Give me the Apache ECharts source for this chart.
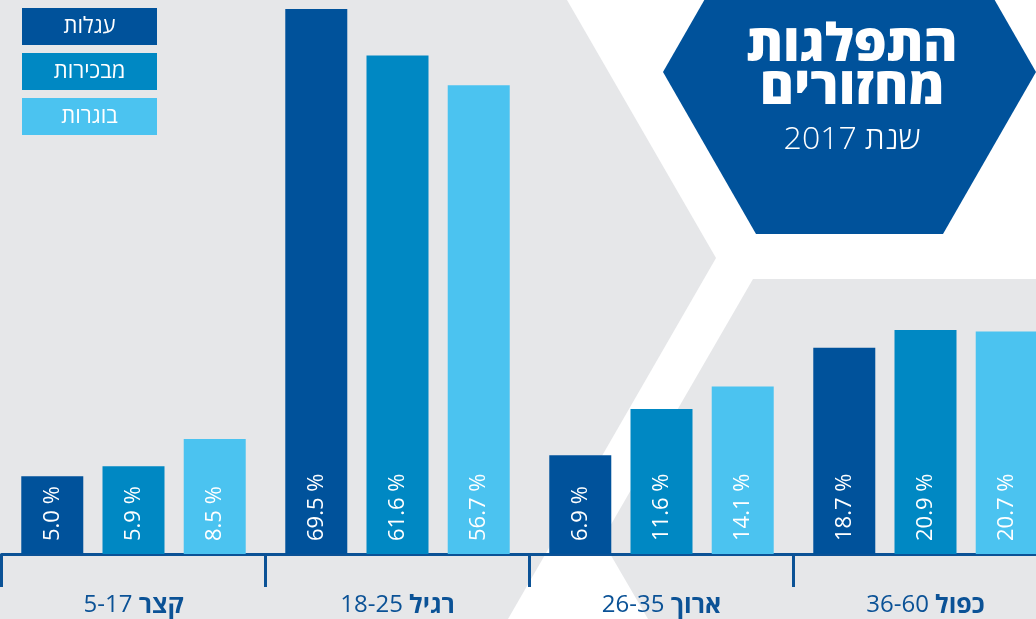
<!DOCTYPE html>
<html lang="he">
<head>
<meta charset="utf-8">
<title>התפלגות מחזורים 2017</title>
<script src="https://cdn.jsdelivr.net/npm/echarts@6/dist/echarts.min.js"></script>
<style>
  html, body { margin: 0; padding: 0; background: #fff; }
  #chart { width: 1036px; height: 619px; }
</style>
</head>
<body>
<div id="chart"></div>
<script>
// Lactation-length groups and their day ranges
const categories = ['קצר', 'רגיל', 'ארוך', 'כפול'];
const ageRanges = ['5-17', '18-25', '26-35', '36-60'];

// Herd groups (legend order)
const seriesNames = ['עגלות', 'מבכירות', 'בוגרות'];

// Share of each group, percent
const heifers      = [5.0, 69.5, 6.9, 18.7];
const firstCalvers = [5.9, 61.6, 11.6, 20.9];
const matureCows   = [8.5, 56.7, 14.1, 20.7];

const seriesValues = [heifers, firstCalvers, matureCows];
const colors = ['#00529B', '#0088C3', '#4BC3F0'];
const grey = '#E6E7E9';
const axisBlue = '#0B5296';
const FONT = '"Open Sans", "DejaVu Sans", sans-serif';

// Bar heights follow a compressed (power) scale so the short groups stay readable
const SCALE_EXP = 0.74;
const toScale = v => Math.pow(v, SCALE_EXP);

const chart = echarts.init(document.getElementById('chart'), null, { renderer: 'canvas' });

const legendRich = {};
colors.forEach((c, i) => {
  legendRich['s' + i] = {
    backgroundColor: c,
    width: 135,
    height: 37,
    lineHeight: 37,
    align: 'center',
    color: '#fff',
    fontSize: 22,
    fontFamily: FONT
  };
});

const option = {
  backgroundColor: '#fff',
  animation: false,
  title: {
    text: 'התפלגות\nמחזורים',
    subtext: '{n|2017 }{h|שנת}',
    left: 847,
    top: 20,
    textAlign: 'center',
    itemGap: 4,
    textStyle: {
      color: '#fff',
      fontFamily: FONT,
      fontSize: 52,
      fontWeight: 800,
      lineHeight: 43
    },
    subtextStyle: {
      color: '#fff',
      rich: {
        n: { color: '#fff', fontFamily: FONT, fontSize: 32, fontWeight: 300 },
        h: { color: '#fff', fontFamily: FONT, fontSize: 32, fontWeight: 300 }
      }
    }
  },
  legend: {
    orient: 'vertical',
    left: 12,
    top: 3,
    itemGap: 8,
    itemWidth: 0,
    itemHeight: 0,
    selectedMode: false,
    data: seriesNames,
    formatter: name => '{s' + seriesNames.indexOf(name) + '|' + name + '}',
    textStyle: { rich: legendRich }
  },
  graphic: [
    {
      type: 'polygon', silent: true, z: -10,
      shape: { points: [[0, 0], [567, 0], [716, 258], [508, 619], [0, 619]] },
      style: { fill: grey }
    },
    {
      type: 'polygon', silent: true, z: -10,
      shape: { points: [[753, 279], [1040, 279], [1040, 619], [648, 619], [602, 540]] },
      style: { fill: grey }
    },
    {
      type: 'polygon', silent: true, z: -9,
      shape: { points: [[663, 72], [756, 234], [943, 234], [1036, 72], [943, -90], [756, -90]] },
      style: { fill: '#00529B' }
    }
  ],
  grid: {
    left: 1.5,
    top: 9,
    width: 1056,
    bottom: 65,
    containLabel: false,
    outerBoundsMode: 'none'
  },
  xAxis: {
    type: 'category',
    data: categories,
    offset: 19,
    axisLine: { show: true, lineStyle: { color: axisBlue, width: 3 } },
    axisTick: { show: true, length: 33, lineStyle: { color: axisBlue, width: 3 } },
    axisLabel: {
      margin: 20,
      formatter: (value, idx) => '{n|' + ageRanges[idx] + ' }{b|' + value + '}',
      rich: {
        n: { color: axisBlue, fontFamily: FONT, fontSize: 24 },
        b: { color: axisBlue, fontFamily: FONT, fontSize: 25, fontWeight: 'bold' }
      }
    }
  },
  yAxis: {
    type: 'value',
    min: 0,
    max: 'dataMax',
    show: false,
    splitLine: { show: false }
  },
  series: seriesNames.map((name, i) => ({
    name: name,
    type: 'bar',
    barWidth: 62,
    barGap: '31%',
    itemStyle: { color: colors[i] },
    data: seriesValues[i].map(toScale),
    label: {
      show: true,
      position: 'insideBottom',
      distance: 13,
      rotate: 90,
      align: 'left',
      verticalAlign: 'middle',
      color: '#fff',
      fontFamily: FONT,
      fontSize: 22,
      formatter: p => seriesValues[i][p.dataIndex].toFixed(1) + ' %'
    }
  }))
};

chart.setOption(option);
</script>
</body>
</html>
